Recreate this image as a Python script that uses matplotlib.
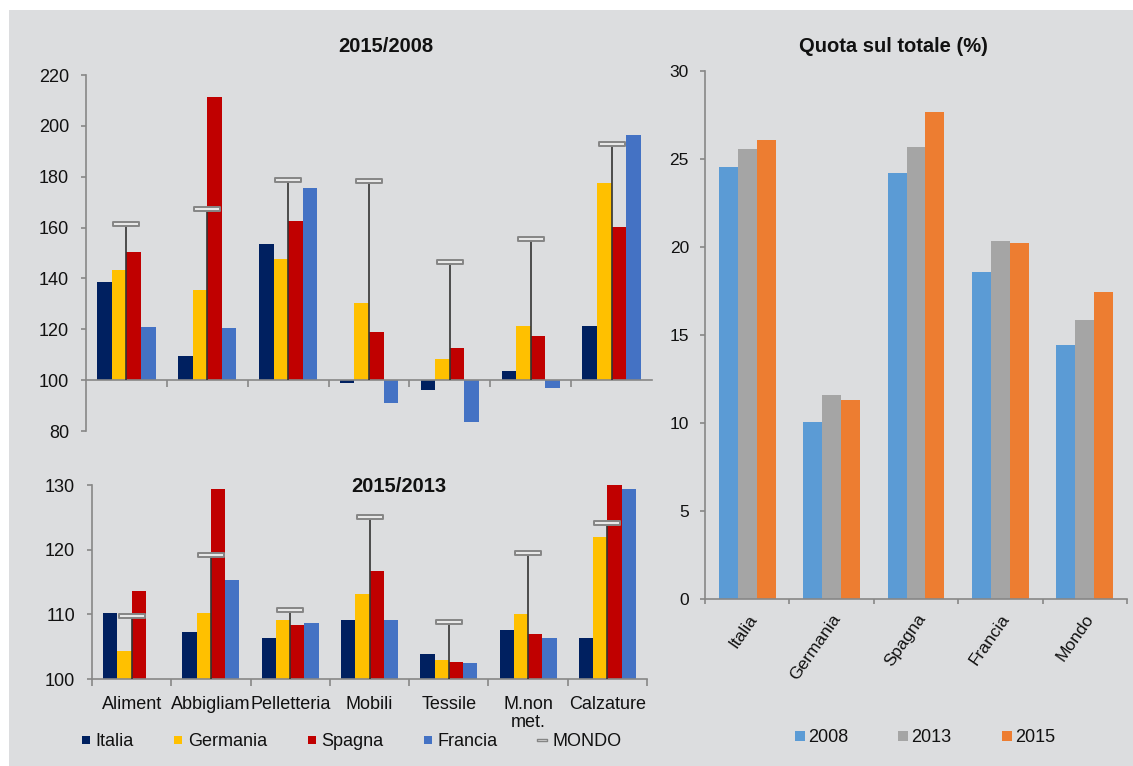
import numpy as np
import matplotlib
matplotlib.use("Agg")
import matplotlib.pyplot as plt
from matplotlib.path import Path
from matplotlib.lines import Line2D
from matplotlib.patches import Rectangle

plt.rcParams['font.family'] = ['Liberation Sans', 'DejaVu Sans']

# ---- data -------------------------------------------------------------
sectors = ["Aliment", "Abbigliam", "Pelletteria", "Mobili", "Tessile",
           "M.non\nmet.", "Calzature"]
countries = ["Italia", "Germania", "Spagna", "Francia"]

# index 2015 vs 2008 (2008 = 100)
idx_0815_italia = [138.5, 109.6, 153.6, 98.7, 96.3, 103.7, 121.4]
idx_0815_germania = [143.3, 135.6, 147.7, 130.4, 108.2, 121.1, 177.5]
idx_0815_spagna = [150.2, 211.4, 162.5, 119.0, 112.8, 117.2, 160.2]
idx_0815_francia = [120.8, 120.6, 175.5, 91.0, 83.7, 97.0, 196.4]
idx_0815_mondo = [161.3, 167.4, 178.6, 178.2, 146.5, 155.6, 192.8]

# index 2015 vs 2013 (2013 = 100)
idx_1315_italia = [110.2, 107.3, 106.3, 109.2, 103.8, 107.6, 106.4]
idx_1315_germania = [104.3, 110.2, 109.1, 113.1, 103.0, 110.1, 121.9]
idx_1315_spagna = [113.6, 129.4, 108.4, 116.7, 102.7, 106.9, 130.2]
idx_1315_francia = [np.nan, 115.3, 108.6, 109.1, 102.4, 106.3, 129.4]
idx_1315_mondo = [109.8, 119.1, 110.7, 125.1, 108.8, 119.5, 124.1]

# share of total (%)
share_areas = ["Italia", "Germania", "Spagna", "Francia", "Mondo"]
share_years = ["2008", "2013", "2015"]
share_2008 = [24.55, 10.05, 24.2, 18.6, 14.42]
share_2013 = [25.58, 11.61, 25.66, 20.34, 15.85]
share_2015 = [26.06, 11.32, 27.65, 20.24, 17.46]

# ---- style ------------------------------------------------------------
country_colors = ["#002060", "#FFC000", "#C00000", "#4472C4"]
year_colors = ["#5B9BD5", "#A5A5A5", "#ED7D31"]
axis_grey = "#878787"
panel_bg = "#dcdddf"
txt = "#111111"

# flat bar used as the MONDO marker
dash_marker = Path([(-1, -0.17), (1, -0.17), (1, 0.17), (-1, 0.17), (-1, -0.17)],
                   [Path.MOVETO, Path.LINETO, Path.LINETO, Path.LINETO, Path.CLOSEPOLY])

W, H = 1133, 766
fig = plt.figure(figsize=(W / 100, H / 100), dpi=100)
fig.patch.set_facecolor("white")
fig.patches.append(Rectangle((9 / W, 0), 1, 1 - 10 / H, transform=fig.transFigure,
                             facecolor=panel_bg, edgecolor="none", zorder=-10))


def fax(x0, y0, x1, y1):
    """axes from pixel box (left, top, right, bottom)"""
    return fig.add_axes([x0 / W, 1 - y1 / H, (x1 - x0) / W, (y1 - y0) / H])


def style_axes(ax):
    ax.set_facecolor("none")
    for s in ("top", "right"):
        ax.spines[s].set_visible(False)
    for s in ("left", "bottom"):
        ax.spines[s].set_color(axis_grey)
        ax.spines[s].set_linewidth(1.2)
    ax.tick_params(axis="y", direction="out", length=3.6, width=1.2, color=axis_grey,
                   labelsize=13, labelcolor=txt, pad=8.5)
    ax.tick_params(axis="x", direction="out", length=5.2, width=1.2, color=axis_grey,
                   labelsize=13, labelcolor=txt)


def draw_index(ax, series, mondo):
    x = np.arange(len(sectors))
    w = 0.18
    for i, (vals, col) in enumerate(zip(series, country_colors)):
        vals = np.asarray(vals, float)
        ax.bar(x + (i - 1.5) * w, vals - 100, bottom=100, width=w, color=col,
               linewidth=0, zorder=2)
    ax.vlines(x, 100, mondo, colors="#333333", linewidth=1.2, zorder=3)
    ax.plot(x, mondo, linestyle="none", marker=dash_marker, markersize=18.5,
            markerfacecolor="#e8e8e8", markeredgecolor="#858585",
            markeredgewidth=1.4, zorder=4)
    ax.set_xlim(-0.5, len(sectors) - 0.5)


# ---- 2015/2008 ----------------------------------------------------------
ax1 = fax(86, 75, 652, 431)
style_axes(ax1)
draw_index(ax1, [idx_0815_italia, idx_0815_germania, idx_0815_spagna, idx_0815_francia],
           idx_0815_mondo)
ax1.set_ylim(80, 220)
ax1.set_yticks(np.arange(80, 221, 20))
ax1.spines["bottom"].set_position(("data", 100))
ax1.set_xticks(np.arange(0.5, len(sectors) - 1, 1.0))
ax1.set_xticklabels([])
fig.text(385.5 / W, 1 - 46 / H, "2015/2008", ha="center", va="center",
         fontsize=14.5, fontweight="bold", color=txt)

# ---- 2015/2013 ----------------------------------------------------------
ax2 = fax(92, 485, 647, 679)
style_axes(ax2)
draw_index(ax2, [idx_1315_italia, idx_1315_germania, idx_1315_spagna, idx_1315_francia],
           idx_1315_mondo)
ax2.set_ylim(100, 130)
ax2.set_yticks([100, 110, 120, 130])
ax2.set_xticks(np.arange(-0.5, len(sectors), 1.0))
ax2.set_xticklabels([])
ax2.set_xticks(np.arange(len(sectors)), minor=True)
ax2.set_xticklabels(sectors, minor=True, linespacing=1.1)
ax2.tick_params(axis="x", which="minor", length=0, pad=12, labelsize=13, labelcolor=txt)
fig.text(399 / W, 1 - 487 / H, "2015/2013", ha="center", va="center",
         fontsize=14.5, fontweight="bold", color=txt)

handles = [Line2D([], [], linestyle="none", marker="s", markersize=6,
                  markerfacecolor=c, markeredgewidth=0) for c in country_colors]
handles.append(Line2D([], [], linestyle="none", marker=dash_marker, markersize=7.5,
                      markerfacecolor="#e8e8e8", markeredgecolor="#858585",
                      markeredgewidth=1.0))
fig.legend(handles, countries + ["MONDO"], loc="center left",
           bbox_to_anchor=(80.5 / W, 1 - 742 / H), ncol=5, frameon=False,
           fontsize=13, handlelength=0.6, handletextpad=0.25, columnspacing=2.15,
           borderpad=0, borderaxespad=0, labelcolor=txt)

# ---- Quota sul totale ---------------------------------------------------
ax3 = fax(705, 71, 1127, 599)
style_axes(ax3)
xs = np.arange(len(share_areas))
bw = 0.225
for i, (vals, col) in enumerate(zip([share_2008, share_2013, share_2015], year_colors)):
    ax3.bar(xs + (i - 1) * bw, vals, width=bw, color=col, linewidth=0, zorder=2)
ax3.set_xlim(-0.5, len(share_areas) - 0.5)
ax3.set_ylim(0, 30)
ax3.set_yticks(np.arange(0, 31, 5))
ax3.tick_params(axis="y", labelsize=12.5, pad=8)
ax3.set_xticks(np.arange(-0.5, len(share_areas), 1.0))
ax3.set_xticklabels([])
ax3.set_xticks(xs, minor=True)
ax3.set_xticklabels(share_areas, minor=True, rotation=55, ha="right",
                    rotation_mode="anchor")
ax3.tick_params(axis="x", which="major", length=3.5)
ax3.tick_params(axis="x", which="minor", length=0, pad=9, labelsize=12.5,
                labelcolor=txt)
fig.text(893.5 / W, 1 - 46 / H, "Quota sul totale (%)", ha="center", va="center",
         fontsize=14.5, fontweight="bold", color=txt)

yhandles = [Line2D([], [], linestyle="none", marker="s", markersize=7,
                   markerfacecolor=c, markeredgewidth=0) for c in year_colors]
fig.legend(yhandles, share_years, loc="center left",
           bbox_to_anchor=(794.5 / W, 1 - 738 / H), ncol=3, frameon=False,
           fontsize=13, handlelength=0.6, handletextpad=0.15, columnspacing=2.75,
           borderpad=0, borderaxespad=0, labelcolor=txt)

fig.savefig("out.png", dpi=100, facecolor=fig.get_facecolor())
